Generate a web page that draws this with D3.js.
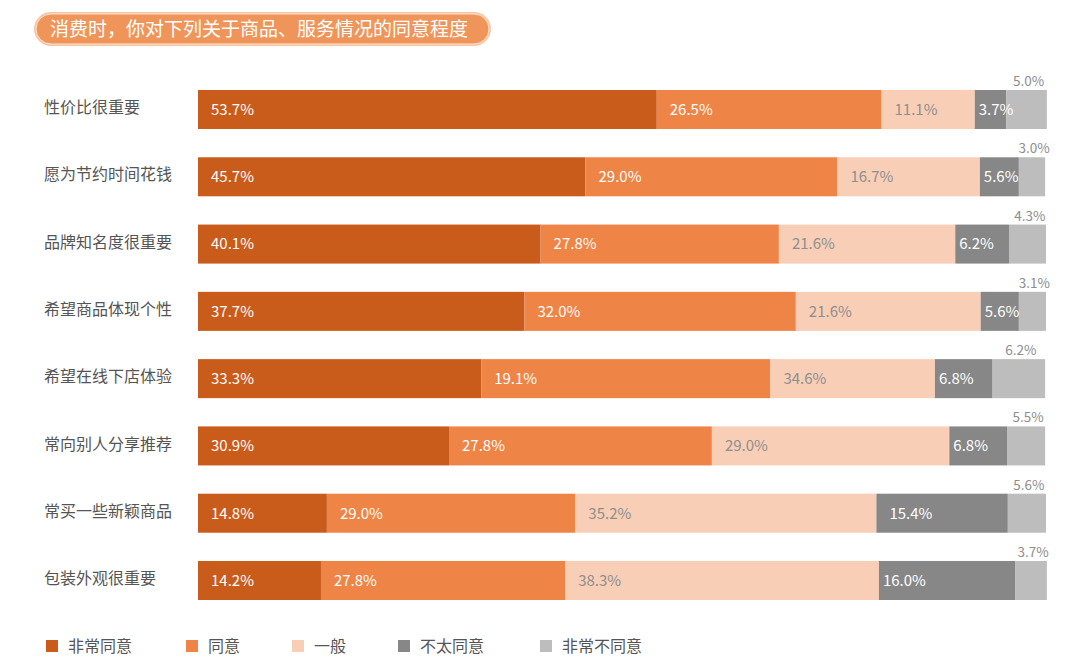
<!DOCTYPE html>
<html>
<head>
<meta charset="utf-8">
<script src="https://cdn.jsdelivr.net/npm/d3@7"></script>
<style>
  body { margin: 0; background: #ffffff; }
  svg text { font-family: "Noto Sans CJK SC", "Noto Sans", sans-serif; }
</style>
</head>
<body>
<div id="chart"></div>
<script>
// Categories (top to bottom)
const categories = ['性价比很重要', '愿为节约时间花钱', '品牌知名度很重要', '希望商品体现个性',
  '希望在线下店体验', '常向别人分享推荐', '常买一些新颖商品', '包装外观很重要'];

const seriesNames = ['非常同意', '同意', '一般', '不太同意', '非常不同意'];

// Segment widths as drawn in the picture (%)
const strongAgree    = [54.1, 45.7, 40.4, 38.5, 33.4, 29.6, 15.2, 14.5];
const agree          = [26.5, 29.7, 28.1, 32.0, 34.1, 31.0, 29.3, 28.8];
const neutral        = [11.0, 16.8, 20.8, 21.8, 19.4, 28.0, 35.5, 37.0];
const disagree       = [3.7, 4.6, 6.4, 4.5, 6.8, 6.8, 15.5, 16.1];
const strongDisagree = [4.8, 3.1, 4.3, 3.2, 6.2, 4.5, 4.5, 3.7];

// Printed labels (%)
const strongAgreeLbl    = ['53.7', '45.7', '40.1', '37.7', '33.3', '30.9', '14.8', '14.2'];
const agreeLbl          = ['26.5', '29.0', '27.8', '32.0', '19.1', '27.8', '29.0', '27.8'];
const neutralLbl        = ['11.1', '16.7', '21.6', '21.6', '34.6', '29.0', '35.2', '38.3'];
const disagreeLbl       = ['3.7', '5.6', '6.2', '5.6', '6.8', '6.8', '15.4', '16.0'];
const strongDisagreeLbl = ['5.0', '3.0', '4.3', '3.1', '6.2', '5.5', '5.6', '3.7'];

const colors = ['#c95c1b', '#ee8446', '#f8ceb7', '#878787', '#bdbdbd'];
const textColors = ['#ffffff', '#ffffff', '#8e8e8e', '#ffffff', '#8e8e8e'];

const width = 1080, height = 665;

const svg = d3.select('#chart').append('svg')
  .attr('width', width)
  .attr('height', height);

// Title pill
const title = svg.append('g');
title.append('rect')
  .attr('x', 34).attr('y', 12)
  .attr('width', 457).attr('height', 34)
  .attr('rx', 17)
  .style('fill', '#f7c7a5');
title.append('rect')
  .attr('x', 36).attr('y', 14)
  .attr('width', 453).attr('height', 30)
  .attr('rx', 15)
  .style('fill', '#f0955a')
  .style('stroke', '#fbe2d1')
  .style('stroke-width', 1);
title.append('text')
  .attr('x', 50).attr('y', 29)
  .attr('dy', '0.35em')
  .style('font-size', '19px')
  .style('fill', '#ffffff')
  .text('消费时，你对下列关于商品、服务情况的同意程度');

// Scales
const x = d3.scaleLinear().domain([0, 100]).range([198, 1046]);
const y = d3.scaleBand().domain(categories).range([90, 600]).paddingInner(0.42).paddingOuter(0);

const widths = [strongAgree, agree, neutral, disagree, strongDisagree];
const labels = [strongAgreeLbl, agreeLbl, neutralLbl, disagreeLbl, strongDisagreeLbl];

const rows = categories.map((c, i) => {
  const r = { category: c };
  seriesNames.forEach((s, k) => { r[s] = widths[k][i]; });
  return r;
});

const stacked = d3.stack().keys(seriesNames)(rows);

// Category labels
svg.append('g').selectAll('text')
  .data(categories)
  .enter().append('text')
    .attr('x', 44)
    .attr('y', d => y(d) + y.bandwidth() / 2 - 2)
    .attr('dy', '0.35em')
    .style('font-size', '16px')
    .style('fill', '#555555')
    .text(d => d);

// Bars (all segments first, so labels sit on top)
const barLayer = svg.append('g');
const labelLayer = svg.append('g');

stacked.forEach((layer, k) => {
  barLayer.append('g').selectAll('rect')
    .data(layer)
    .enter().append('rect')
      .attr('x', d => x(d[0]))
      .attr('y', (d, i) => y(categories[i]))
      .attr('width', d => x(d[1]) - x(d[0]))
      .attr('height', y.bandwidth())
      .style('fill', colors[k]);

  const g = labelLayer.append('g');
  if (k < 4) {
    g.selectAll('text')
      .data(layer)
      .enter().append('text')
        .attr('x', (d, i) => x(d[0]) + (k === 3 ? (i === 6 ? 13 : 4) : 13))
        .attr('y', (d, i) => y(categories[i]) + y.bandwidth() / 2)
        .attr('dy', '0.36em')
        .style('font-size', '15px')
        .style('fill', textColors[k])
        .text((d, i) => labels[k][i] + '%');
  } else {
    g.selectAll('text')
      .data(layer)
      .enter().append('text')
        .attr('x', d => (x(d[0]) + x(d[1])) / 2 + 2)
        .attr('y', (d, i) => y(categories[i]) - 4)
        .attr('text-anchor', 'middle')
        .style('font-size', '13.5px')
        .style('fill', '#8e8e8e')
        .text((d, i) => labels[k][i] + '%');
  }
});

// Legend
const legendX = [46, 186, 292, 398, 540];
const legend = svg.append('g').selectAll('g')
  .data(seriesNames)
  .enter().append('g')
    .attr('transform', (d, i) => 'translate(' + legendX[i] + ',646)');
legend.append('rect')
  .attr('x', 0).attr('y', -6)
  .attr('width', 12).attr('height', 12)
  .style('fill', (d, i) => colors[i]);
legend.append('text')
  .attr('x', 22).attr('y', 0)
  .attr('dy', '0.35em')
  .style('font-size', '16px')
  .style('fill', '#555555')
  .text(d => d);
</script>
</body>
</html>
